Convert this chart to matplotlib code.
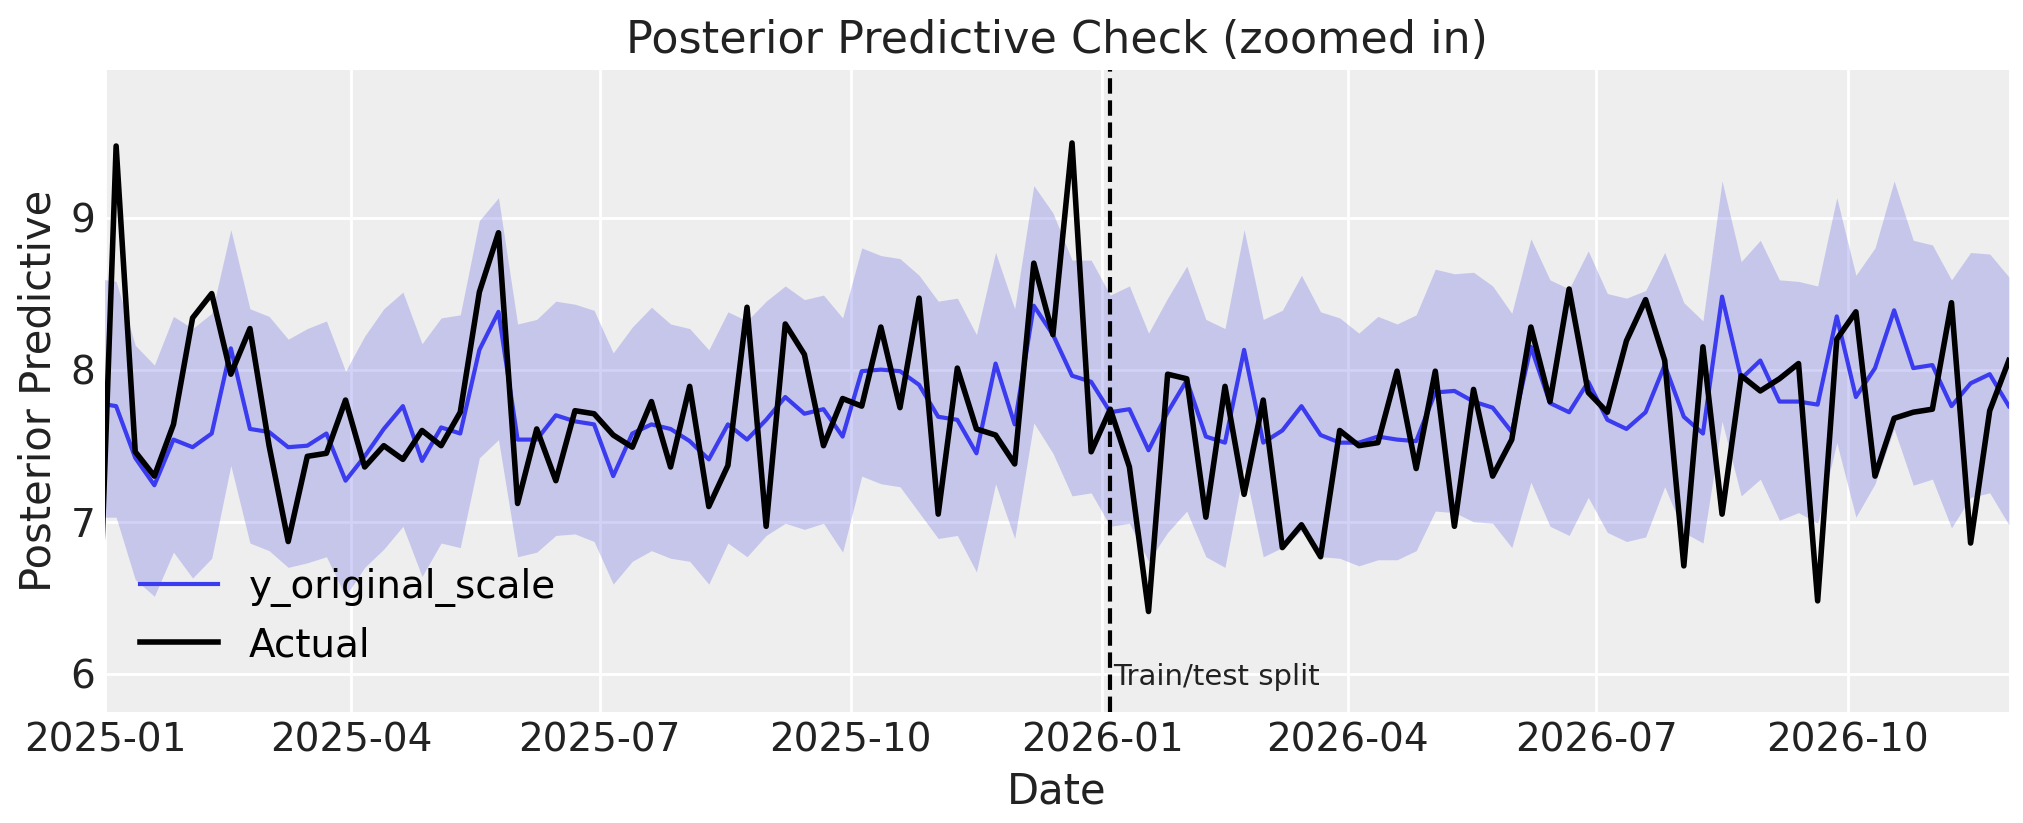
import numpy as np
import pandas as pd
import matplotlib.pyplot as plt
import matplotlib.dates as mdates

dates = pd.date_range("2024-12-29", periods=101, freq="7D")

actual = [5.9, 9.47, 7.46, 7.30, 7.64, 8.34, 8.50, 7.97, 8.27, 7.50, 6.87, 7.43, 7.45, 7.80, 7.36, 7.50,
          7.41, 7.60, 7.50, 7.72, 8.51, 8.90, 7.12, 7.61, 7.27, 7.73, 7.71, 7.57, 7.49, 7.79, 7.36,
          7.89, 7.10, 7.37, 8.41, 6.97, 8.30, 8.10, 7.50, 7.81, 7.76, 8.28, 7.75, 8.47, 7.05, 8.01,
          7.61, 7.57, 7.38, 8.70, 8.23, 9.49, 7.46, 7.74, 7.36, 6.41, 7.97, 7.94, 7.03, 7.89, 7.18,
          7.80, 6.83, 6.98, 6.77, 7.60, 7.50, 7.52, 7.99, 7.35, 7.99, 6.97, 7.87, 7.30, 7.54, 8.28,
          7.79, 8.53, 7.85, 7.72, 8.19, 8.46, 8.06, 6.71, 8.15, 7.05, 7.96, 7.86, 7.94, 8.04, 6.48,
          8.20, 8.38, 7.30, 7.68, 7.72, 7.74, 8.44, 6.86, 7.73, 8.06]

pred_mean = [7.78, 7.76, 7.42, 7.24, 7.54, 7.49, 7.58, 8.14, 7.61, 7.59, 7.49, 7.50, 7.58, 7.27, 7.43,
             7.61, 7.76, 7.40, 7.62, 7.58, 8.13, 8.38, 7.54, 7.54, 7.70, 7.66, 7.64, 7.30, 7.58, 7.64,
             7.61, 7.53, 7.41, 7.64, 7.54, 7.67, 7.82, 7.71, 7.74, 7.56, 7.99, 8.00, 7.99, 7.90, 7.69,
             7.67, 7.45, 8.04, 7.64, 8.42, 8.23, 7.96, 7.92, 7.72, 7.74, 7.47, 7.72, 7.93, 7.56, 7.52,
             8.13, 7.52, 7.60, 7.76, 7.57, 7.52, 7.52, 7.56, 7.54, 7.53, 7.85, 7.86, 7.79, 7.75, 7.59,
             8.15, 7.78, 7.72, 7.92, 7.67, 7.61, 7.72, 8.03, 7.69, 7.58, 8.48, 7.94, 8.06, 7.79, 7.79,
             7.77, 8.35, 7.82, 8.01, 8.39, 8.01, 8.03, 7.76, 7.91, 7.97, 7.76]

pred_upper = [8.60, 8.58, 8.16, 8.03, 8.35, 8.27, 8.37, 8.92, 8.40, 8.35, 8.20, 8.27, 8.32, 7.99, 8.22,
              8.40, 8.51, 8.17, 8.34, 8.36, 8.98, 9.13, 8.30, 8.33, 8.45, 8.43, 8.39, 8.11, 8.28, 8.41,
              8.30, 8.27, 8.13, 8.38, 8.32, 8.45, 8.55, 8.46, 8.49, 8.34, 8.80, 8.75, 8.73, 8.62, 8.45,
              8.47, 8.23, 8.77, 8.40, 9.21, 9.03, 8.72, 8.72, 8.49, 8.55, 8.24, 8.47, 8.68, 8.33, 8.27,
              8.92, 8.33, 8.39, 8.62, 8.38, 8.34, 8.24, 8.35, 8.30, 8.36, 8.66, 8.63, 8.64, 8.55, 8.37,
              8.86, 8.59, 8.53, 8.78, 8.50, 8.47, 8.52, 8.77, 8.44, 8.32, 9.24, 8.71, 8.85, 8.59, 8.58,
              8.55, 9.13, 8.62, 8.80, 9.24, 8.85, 8.82, 8.59, 8.77, 8.76, 8.61]

pred_lower = [7.03, 7.03, 6.62, 6.51, 6.80, 6.63, 6.76, 7.37, 6.86, 6.81, 6.70, 6.73, 6.77, 6.51, 6.70,
              6.82, 6.97, 6.64, 6.86, 6.83, 7.42, 7.54, 6.77, 6.80, 6.91, 6.92, 6.87, 6.59, 6.74, 6.81,
              6.76, 6.74, 6.59, 6.86, 6.77, 6.91, 6.99, 6.95, 6.99, 6.80, 7.30, 7.25, 7.23, 7.06, 6.89,
              6.91, 6.67, 7.25, 6.89, 7.65, 7.45, 7.17, 7.19, 6.97, 6.99, 6.74, 6.93, 7.07, 6.77, 6.70,
              7.36, 6.77, 6.83, 6.94, 6.77, 6.76, 6.71, 6.75, 6.75, 6.81, 7.07, 7.06, 7.00, 6.99, 6.83,
              7.26, 6.97, 6.91, 7.16, 6.93, 6.87, 6.90, 7.23, 6.93, 6.86, 7.66, 7.17, 7.28, 7.01, 7.06,
              6.99, 7.52, 7.03, 7.25, 7.61, 7.24, 7.28, 6.96, 7.16, 7.19, 6.98]

split_date = pd.Timestamp("2026-01-04")

plt.rcParams['font.family'] = ['DejaVu Sans']
fig, ax = plt.subplots(figsize=(10.115, 4.115), dpi=200)
ax.set_facecolor("#eeeeee")
ax.grid(True, color="white", linewidth=1)
ax.set_axisbelow(True)
for s in ax.spines.values():
    s.set_visible(False)

blue = "#3b3bf0"
ax.fill_between(dates, pred_lower, pred_upper, color="#6a6ae6", alpha=0.3, linewidth=0)
ax.plot(dates, pred_mean, color=blue, linewidth=1.5, label="y_original_scale")
ax.plot(dates, actual, color="black", linewidth=2, label="Actual")
ax.axvline(split_date, color="black", linestyle="--", linewidth=1.5)
ax.text(split_date + pd.Timedelta(days=1), 5.93, "Train/test split", fontsize=10.5, color="#222222")

ax.set_xlim(pd.Timestamp("2025-01-01"), dates[-1])
ax.xaxis.set_major_locator(mdates.MonthLocator(bymonth=[1, 4, 7, 10]))
ax.xaxis.set_major_formatter(mdates.DateFormatter("%Y-%m"))
ax.set_ylim(5.75, 9.97)
ax.set_yticks([6, 7, 8, 9])
ax.tick_params(labelsize=14, length=0, colors="#222222")
ax.set_xlabel("Date", fontsize=15, color="#222222")
ax.set_ylabel("Posterior Predictive", fontsize=15, color="#222222")
ax.set_title("Posterior Predictive Check (zoomed in)", fontsize=16, color="#222222")
ax.legend(loc="lower left", frameon=False, fontsize=14, bbox_to_anchor=(0.0, 0.02))

fig.subplots_adjust(left=0.052, right=0.993, top=0.915, bottom=0.135)
plt.savefig("out.png")
